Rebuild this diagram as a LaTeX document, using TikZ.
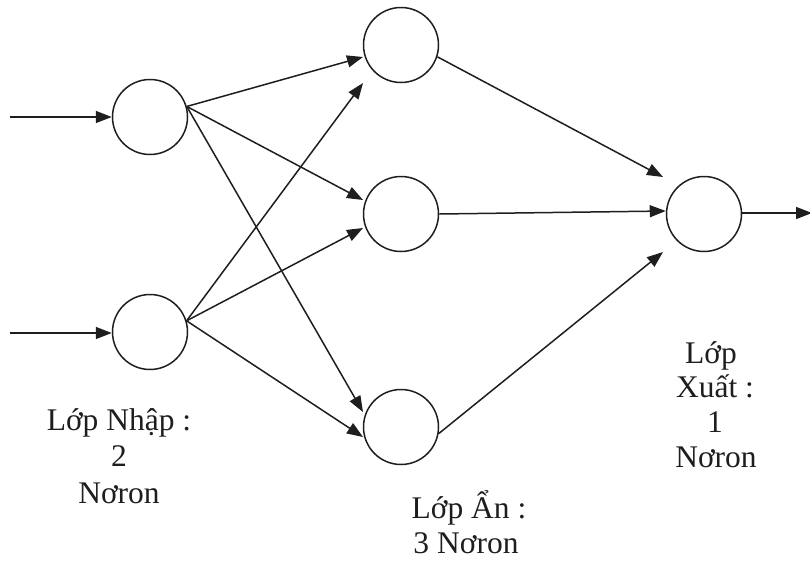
\documentclass[tikz,border=0pt]{standalone}
\usepackage{fontspec}
\setmainfont{Liberation Serif}
\usetikzlibrary{arrows.meta,calc}
\definecolor{ink}{RGB}{30,30,30}
\begin{document}
\begin{tikzpicture}[x=1pt,y=-1pt,
  neuron/.style={circle,draw=ink,line width=1.5pt,minimum size=75pt,inner sep=0pt},
  link/.style={draw=ink,line width=1.5pt,-{Triangle[length=16pt,width=12pt]}},
  lbl/.style={anchor=base,inner sep=0pt,text=ink,font=\fontsize{31.5}{36}\selectfont}]
\useasboundingbox (0,0) rectangle (810,568);
% neurons
\node[neuron] (i1) at (150,117) {};
\node[neuron] (i2) at (150,332) {};
\node[neuron] (h1) at (401,45) {};
\node[neuron] (h2) at (401,214) {};
\node[neuron] (h3) at (401,427) {};
\node[neuron] (o)  at (704,214) {};
\coordinate (in1) at (10,117);
\coordinate (in2) at (10,333);
\coordinate (out) at (812,213);
% input arrows
\draw[link] (in1) -- (i1.west);
\draw[link] (in2) -- ($(i2.west)+(0,1)$);
% input -> hidden
\draw[link] (i1.16) -- ($(h1)+(-38,12)$);
\draw[link] (i1.16) -- ($(h2)+(-38,-14)$);
\draw[link] (i1.16) -- ($(h3)+(-38,-15)$);
\draw[link] (i2.17) -- ($(h1)+(-38,38)$);
\draw[link] (i2.17) -- ($(h2)+(-38,14)$);
\draw[link] (i2.17) -- ($(h3)+(-38,10)$);
% hidden -> output
\draw[link] (h1.-18) -- ($(o)+(-41,-37)$);
\draw[link] (h2.east) -- ($(o.west)+(0,-3)$);
\draw[link] (h3.-10) -- ($(o)+(-41,38)$);
% output arrow
\draw[link] ($(o.east)+(0,-1)$) -- (out);
% labels
\node[lbl] (l1a) at (119,430) {Lớp Nhập :};
\node[lbl] (l1b) at (119,466) {2};
\node[lbl] (l1c) at (119,503) {Nơron};
\node[lbl] (l2a) at (469,518) {Lớp Ẩn :};
\node[lbl] (l2b) at (466,553) {3 Nơron};
\node[lbl] (l3a) at (711,363) {Lớp};
\node[lbl] (l3b) at (715,397) {Xuất :};
\node[lbl] (l3c) at (715,432) {1};
\node[lbl] (l3d) at (716,467) {Nơron};
\end{tikzpicture}
\end{document}
